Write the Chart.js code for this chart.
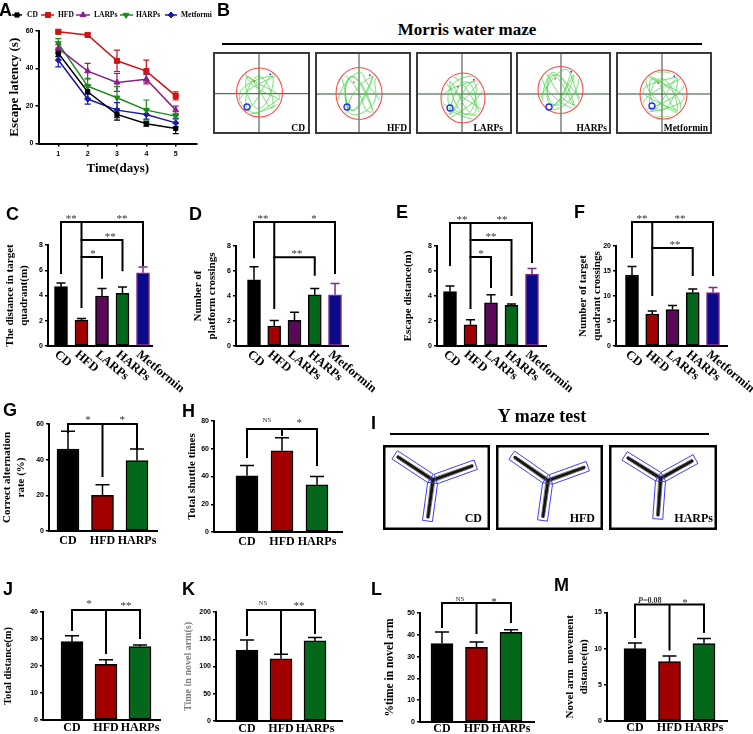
<!DOCTYPE html>
<html>
<head>
<meta charset="utf-8">
<script src="https://cdn.jsdelivr.net/npm/chart.js@4.4.1/dist/chart.umd.min.js"></script>
<style>
html,body{margin:0;padding:0;background:#fff;}
#fig{position:relative;width:753px;height:734px;overflow:hidden;background:#fff;}
canvas{position:absolute;}
.lbl{position:absolute;font-family:"Liberation Sans",Arial,sans-serif;font-weight:bold;font-size:18px;line-height:18px;color:#000;}
.big{position:absolute;font-family:"Liberation Serif","Times New Roman",serif;font-weight:bold;line-height:1;white-space:nowrap;transform:translateX(-50%);color:#000;}
.rule{position:absolute;height:2px;background:#000;}
</style>
</head>
<body>
<div id="fig"></div>
<script>
// ---------------- DATA ----------------
const days = [1, 2, 3, 4, 5];
const groups5 = ['CD', 'HFD', 'LARPs', 'HARPs', 'Metformin'];
const groups3 = ['CD', 'HFD', 'HARPs'];

// A: escape latency (s) per day, mean and error
const latencyCD = [48.1, 27.6, 15.5, 10.5, 8.0];
const latencyCDErr = [1.8, 3.5, 3.0, 1.2, 2.7];
const latencyHFD = [59.6, 57.9, 44.1, 38.6, 25.4];
const latencyHFDErr = [1.0, 1.0, 5.7, 5.9, 2.1];
const latencyLARPs = [50.7, 38.6, 32.6, 34.3, 17.8];
const latencyLARPsErr = [2.0, 4.1, 4.8, 2.5, 2.1];
const latencyHARPs = [53.4, 30.6, 24.4, 17.8, 14.6];
const latencyHARPsErr = [2.5, 4.1, 5.9, 5.4, 1.2];
const latencyMet = [44.5, 23.7, 17.8, 15.5, 11.0];
const latencyMetErr = [3.6, 2.7, 4.0, 2.5, 2.1];

// C-F (five groups)
const targetQuadrantDistance = [4.7, 2.05, 3.96, 4.17, 5.8];
const targetQuadrantDistanceErr = [0.3, 0.12, 0.6, 0.5, 0.45];
const platformCrossings = [5.3, 1.6, 2.05, 4.1, 4.1];
const platformCrossingsErr = [1.05, 0.45, 0.65, 0.5, 0.9];
const escapeDistance = [4.35, 1.7, 3.45, 3.25, 5.75];
const escapeDistanceErr = [0.45, 0.4, 0.65, 0.12, 0.45];
const quadrantCrossings = [14.2, 6.4, 7.3, 10.7, 10.7];
const quadrantCrossingsErr = [1.7, 0.6, 0.8, 0.7, 1.0];

// G, H, J-M (three groups)
const alternationRate = [46, 20, 39.5];
const alternationRateErr = [10, 6, 6.5];
const shuttleTimes = [40.5, 58.5, 34];
const shuttleTimesErr = [7.5, 9.5, 6];
const totalDistance = [29, 20.6, 27.2];
const totalDistanceErr = [2.2, 1.7, 0.6];
const novelArmTime = [130, 114, 147];
const novelArmTimeErr = [18.5, 8.5, 6];
const novelArmPercent = [36, 34.2, 41.1];
const novelArmPercentErr = [5.3, 2.5, 1.2];
const novelArmDistance = [10.0, 8.2, 10.7];
const novelArmDistanceErr = [0.8, 0.8, 0.7];

// y tick values
const ticksA = [0, 20, 40, 60];
const ticksC = [0, 2, 4, 6, 8];
const ticksD = [0, 2, 4, 6, 8];
const ticksE = [0, 2, 4, 6, 8];
const ticksF = [0, 5, 10, 15, 20];
const ticksG = [0, 20, 40, 60];
const ticksH = [0, 20, 40, 60, 80];
const ticksJ = [0, 10, 20, 30, 40];
const ticksK = [0, 50, 100, 150, 200];
const ticksL = [0, 10, 20, 30, 40, 50];
const ticksM = [0, 5, 10, 15];

// ---------------- STYLE ----------------
const SERIF = '"Liberation Serif","Times New Roman",serif';
const SANS = '"Liberation Sans",Arial,sans-serif';
const groupFill = {CD:'#000000', HFD:'#a00000', LARPs:'#5a0858', HARPs:'#05671a', Metformin:'#0b0b8a'};
const groupBorder = {CD:'#000000', HFD:'#000000', LARPs:'#000000', HARPs:'#000000', Metformin:'#7a2c8c'};

Chart.defaults.animation = false;
Chart.defaults.font.family = SANS;
Chart.defaults.color = '#000';

const fig = document.getElementById('fig');
function addCanvas(l, t, w, h) {
  const c = document.createElement('canvas');
  c.width = w; c.height = h;
  c.style.left = l + 'px'; c.style.top = t + 'px';
  c.style.width = w + 'px'; c.style.height = h + 'px';
  fig.appendChild(c);
  return c;
}
function addDiv(cls, txt, x, y, extra) {
  const d = document.createElement('div');
  d.className = cls; d.textContent = txt;
  d.style.left = x + 'px'; d.style.top = y + 'px';
  if (extra) d.style.cssText += extra;
  fig.appendChild(d);
  return d;
}

// ---------------- PLUGINS ----------------
function drawErrors(chart) {
  const ctx = chart.ctx, ys = chart.scales.y;
  chart.data.datasets.forEach((ds, di) => {
    if (!ds.errors) return;
    const meta = chart.getDatasetMeta(di);
    meta.data.forEach((el, i) => {
      const v = ds.data[i].y, e = ds.errors[i];
      const x = el.x;
      const yTop = ys.getPixelForValue(v + e);
      const yBase = ds.bothErrors ? ys.getPixelForValue(v - e) : ys.getPixelForValue(v);
      const col = Array.isArray(ds.errorColor) ? ds.errorColor[i] : ds.errorColor;
      const cw = ds.capWidth / 2;
      ctx.save();
      ctx.strokeStyle = col; ctx.lineWidth = ds.errorWidth;
      ctx.beginPath();
      ctx.moveTo(x, yBase); ctx.lineTo(x, yTop);
      ctx.moveTo(x - cw, yTop); ctx.lineTo(x + cw, yTop);
      if (ds.bothErrors) { ctx.moveTo(x - cw, yBase); ctx.lineTo(x + cw, yBase); }
      ctx.stroke();
      ctx.restore();
    });
  });
}
const errPluginBefore = { id: 'errBefore', beforeDatasetsDraw(chart) { drawErrors(chart); } };
const errPluginAfter = { id: 'errAfter', afterDatasetsDraw(chart) { drawErrors(chart); } };

function drawMark(ctx, m, x, y) {
  ctx.save();
  ctx.fillStyle = '#333';
  ctx.textBaseline = 'alphabetic';
  if (m.pre) {
    ctx.font = 'italic bold 8px ' + SERIF;
    const w1 = ctx.measureText(m.pre).width;
    ctx.font = 'bold 8px ' + SERIF;
    const w2 = ctx.measureText(m.t).width;
    const x0 = x - (w1 + w2) / 2;
    ctx.textAlign = 'left';
    ctx.font = 'italic bold 8px ' + SERIF; ctx.fillText(m.pre, x0, y);
    ctx.font = 'bold 8px ' + SERIF; ctx.fillText(m.t, x0 + w1, y);
  } else {
    ctx.textAlign = 'center';
    ctx.font = (m.t === 'NS' ? '7px ' : '11px ') + SERIF;
    ctx.fillText(m.t, x, y);
  }
  ctx.restore();
}
function bracketPlugin(list) {
  return {
    id: 'brackets',
    afterDatasetsDraw(chart) {
      const ctx = chart.ctx, xs = chart.scales.x, ys = chart.scales.y;
      ctx.save();
      ctx.strokeStyle = '#000'; ctx.lineWidth = 2; ctx.lineCap = 'square';
      list.forEach(b => {
        const y = ys.getPixelForValue(b.y);
        ctx.beginPath();
        ctx.moveTo(xs.getPixelForValue(b.from), y);
        ctx.lineTo(xs.getPixelForValue(b.to), y);
        b.legs.forEach(([i, v]) => {
          const x = xs.getPixelForValue(i);
          ctx.moveTo(x, y); ctx.lineTo(x, ys.getPixelForValue(v));
        });
        ctx.stroke();
        b.marks.forEach(m => drawMark(ctx, m, xs.getPixelForValue(m.at), y + (m.dy || 0)));
      });
      ctx.restore();
    }
  };
}
function rotLabelPlugin(labels) {
  return {
    id: 'rotLabels',
    afterDraw(chart) {
      const ctx = chart.ctx, xs = chart.scales.x, y0 = chart.chartArea.bottom;
      ctx.save();
      ctx.font = 'bold 12.5px ' + SERIF;
      ctx.fillStyle = '#000'; ctx.textAlign = 'left'; ctx.textBaseline = 'middle';
      labels.forEach((t, i) => {
        const x = xs.getPixelForValue(i);
        ctx.save();
        ctx.translate(x - 5, y0 + 7);
        ctx.rotate(40 * Math.PI / 180);
        ctx.fillText(t, 0, 0);
        ctx.restore();
      });
      ctx.restore();
    }
  };
}

// ---------------- BAR PANELS ----------------
function barPanel(g, labels, values, errs, ticks, title, tOpt, brackets, rotated) {
  const c = addCanvas(g.cl, g.ct, g.cw, g.ch);
  const n = labels.length;
  const yw = g.axL - g.cl, xh = g.ct + g.ch - g.yBot;
  const xmin = -(g.c0 - g.axL) / g.s;
  const xmax = (n - 1) + (g.axR - (g.c0 + (n - 1) * g.s)) / g.s;
  const tfont = {family: SERIF, weight: tOpt.weight || 'bold', size: tOpt.size || 11, lineHeight: 1.25};
  const lh = tfont.size * tfont.lineHeight;
  const borders = labels.map(l => groupBorder[l]);
  const plugins = [errPluginAfter, bracketPlugin(brackets)];
  if (rotated) plugins.push(rotLabelPlugin(labels));
  return new Chart(c, {
    type: 'bar',
    data: {
      datasets: [{
        data: values.map((v, i) => ({x: i, y: v})),
        errors: errs, errorColor: borders, errorWidth: 1.5, capWidth: g.cap,
        backgroundColor: labels.map(l => groupFill[l]),
        borderColor: borders,
        borderWidth: 1.5,
        barThickness: g.bw,
        borderSkipped: false
      }]
    },
    options: {
      responsive: false, devicePixelRatio: 1, animation: false,
      layout: {padding: {left: 0, top: g.yTop - g.ct, right: g.cl + g.cw - g.axR, bottom: 0}},
      plugins: {legend: {display: false}, tooltip: {enabled: false}},
      scales: {
        x: {
          type: 'linear', min: xmin, max: xmax, offset: false,
          afterBuildTicks: s => { s.ticks = labels.map((_, i) => ({value: i})); },
          afterFit: s => { s.height = xh; },
          grid: {display: false, offset: false, drawTicks: false, tickLength: 0},
          border: {display: true, color: '#000', width: 2},
          ticks: {
            display: !rotated, autoSkip: false, maxRotation: 0, minRotation: 0,
            padding: g.xpad || 0, color: '#000',
            font: {family: SERIF, weight: 'bold', size: 12},
            callback: v => labels[v]
          }
        },
        y: {
          min: 0, max: ticks[ticks.length - 1],
          afterBuildTicks: s => { s.ticks = ticks.map(v => ({value: v})); },
          afterFit: s => { s.width = yw; },
          grid: {display: true, drawOnChartArea: false, drawTicks: true, tickLength: 3, color: '#000', lineWidth: 1.5},
          border: {display: true, color: '#000', width: 2},
          ticks: {padding: 2, color: '#000', font: {family: SANS, weight: 'bold', size: 7}},
          title: {
            display: true, text: title, color: tOpt.color || '#000', font: tfont,
            padding: {top: g.titleX - g.cl - lh / 2, bottom: 0}
          }
        }
      }
    },
    plugins: plugins
  });
}

// C
barPanel({cl:0, ct:200, cw:188, ch:205, axL:48, axR:152, yTop:245, yBot:346, c0:61, s:20.5, bw:13, cap:9, titleX:10},
  groups5, targetQuadrantDistance, targetQuadrantDistanceErr, ticksC,
  ['The distance in target', 'quadrant(m)'], {},
  [{y:9.82, from:0, to:4, legs:[[0,5.78],[1,3.09],[4,6.42]], marks:[{t:'**', at:0.5},{t:'**', at:2.98}]},
   {y:8.4, from:1, to:3, legs:[[3,6.0]], marks:[{t:'**', at:2.4}]},
   {y:7.05, from:1, to:2, legs:[[2,5.4]], marks:[{t:'*', at:1.56}]}], true);

// D
barPanel({cl:190, ct:200, cw:192, ch:205, axL:236, axR:348, yTop:246, yBot:346, c0:254, s:20.25, bw:13, cap:9, titleX:198},
  groups5, platformCrossings, platformCrossingsErr, ticksD,
  ['Number of', 'platform crossings'], {},
  [{y:9.92, from:0, to:4, legs:[[0,7.1],[1,3.05],[4,5.85]], marks:[{t:'**', at:0.45},{t:'*', at:2.96}]},
   {y:7.1, from:1, to:3, legs:[[3,5.7]], marks:[{t:'**', at:2.12}]}], true);

// E
barPanel({cl:395, ct:200, cw:182, ch:205, axL:437, axR:546, yTop:246, yBot:346, c0:450, s:20.5, bw:13, cap:9, titleX:408},
  groups5, escapeDistance, escapeDistanceErr, ticksE,
  'Escape distance(m)', {},
  [{y:9.84, from:0, to:4, legs:[[0,6.48],[1,3.04],[4,6.72]], marks:[{t:'**', at:0.59},{t:'**', at:2.54}]},
   {y:8.48, from:1, to:3, legs:[[3,4.08]], marks:[{t:'**', at:2.0}]},
   {y:7.12, from:1, to:2, legs:[[2,4.72]], marks:[{t:'*', at:1.51}]}], true);

// F
barPanel({cl:575, ct:200, cw:178, ch:205, axL:616, axR:727, yTop:246, yBot:346, c0:632, s:20.25, bw:13, cap:9, titleX:583},
  groups5, quadrantCrossings, quadrantCrossingsErr, ticksF,
  ['Number of target', 'quadrant crossings'], {},
  [{y:24.8, from:0, to:4, legs:[[0,17.8],[1,10.2],[4,14.2]], marks:[{t:'**', at:0.49},{t:'**', at:2.37}]},
   {y:19.6, from:1, to:3, legs:[[3,14.2]], marks:[{t:'**', at:2.12}]}], true);

// G
barPanel({cl:0, ct:400, cw:180, ch:152, axL:49, axR:157, yTop:424, yBot:531, c0:68, s:34.5, bw:22, cap:14, titleX:7, xpad:3},
  groups3, alternationRate, alternationRateErr, ticksG,
  ['Correct alternation', 'rate (%)'], {},
  [{y:60, from:0, to:2, legs:[[0,55.5],[1,30.8],[2,46.6]], marks:[{t:'*', at:0.58, dy:-1},{t:'*', at:1.57, dy:-1}]}], false);

// H
barPanel({cl:183, ct:400, cw:190, ch:152, axL:214, axR:342, yTop:421, yBot:532, c0:247, s:35, bw:22, cap:14, titleX:192, xpad:3},
  groups3, shuttleTimes, shuttleTimesErr, ticksH,
  'Total shuttle times', {},
  [{y:74.2, from:0, to:2, legs:[[0,54.1],[1,69.9],[2,48.3]], marks:[{t:'NS', at:0.57, dy:-7},{t:'*', at:1.49, dy:-3}]}], false);

// J
barPanel({cl:0, ct:590, cw:180, ch:144, axL:43, axR:160, yTop:612, yBot:720, c0:72, s:34, bw:22, cap:14, titleX:8, xpad:1},
  groups3, totalDistance, totalDistanceErr, ticksJ,
  'Total distance(m)', {size:10.5},
  [{y:40.7, from:0, to:2, legs:[[0,33.3],[1,24.8],[2,30.4]], marks:[{t:'*', at:0.5, dy:-3},{t:'**', at:1.59, dy:-1}]}], false);

// K
barPanel({cl:180, ct:590, cw:190, ch:144, axL:216, axR:342, yTop:612, yBot:721, c0:247, s:34, bw:22, cap:14, titleX:188, xpad:1},
  groups3, novelArmTime, novelArmTimeErr, ticksK,
  'Time in novel arm(s)', {size:10, color:'#808080'},
  [{y:203.7, from:0, to:2, legs:[[0,157.8],[1,124.7],[2,161.3]], marks:[{t:'NS', at:0.47, dy:-5},{t:'**', at:1.53, dy:-1}]}], false);

// L
barPanel({cl:380, ct:590, cw:180, ch:144, axL:420, axR:534, yTop:613, yBot:722, c0:442, s:34.5, bw:22, cap:14, titleX:390, xpad:0},
  groups3, novelArmPercent, novelArmPercentErr, ticksL,
  '%time in novel arm', {size:11.5},
  [{y:54.6, from:0, to:2, legs:[[0,43.6],[1,40.8],[2,45.9]], marks:[{t:'NS', at:0.52, dy:-2},{t:'*', at:1.51, dy:2}]}], false);

// M
barPanel({cl:562, ct:590, cw:191, ch:144, axL:607, axR:727, yTop:612.5, yBot:721, c0:635, s:34.5, bw:22, cap:14, titleX:570, xpad:0},
  groups3, novelArmDistance, novelArmDistanceErr, ticksM,
  ['Novel arm  movement', 'distance(m)'], {},
  [{y:16.1, from:0, to:2, legs:[[0,11.6],[1,9.9],[2,12.3]], marks:[{pre:'P', t:'=0.08', at:0.43, dy:-2},{t:'*', at:1.45, dy:1}]}], false);

// ---------------- PANEL A (line chart) ----------------
(function () {
  const g = {cl:0, ct:0, cw:212, ch:176, axL:38.5, axR:197, yTop:31, yBot:143.5, t1:58.3, s:29.35};
  const series = [
    {label:'CD', data:latencyCD, err:latencyCDErr, color:'#000000', style:'rect', r:3, rot:0},
    {label:'HFD', data:latencyHFD, err:latencyHFDErr, color:'#cc1414', style:'rect', r:3.6, rot:0},
    {label:'LARPs', data:latencyLARPs, err:latencyLARPsErr, color:'#8a1f8a', style:'triangle', r:3.4, rot:0},
    {label:'HARPs', data:latencyHARPs, err:latencyHARPsErr, color:'#1b8c1b', style:'triangle', r:3.4, rot:180},
    {label:'Metformin', data:latencyMet, err:latencyMetErr, color:'#1a1ab0', style:'rectRot', r:3, rot:0}
  ];
  const legendPos = [{x1:12, x2:22, mx:17, tx:27}, {x1:41, x2:54, mx:48, tx:58}, {x1:76, x2:90, mx:83, tx:94},
                     {x1:120, x2:133, mx:126, tx:136}, {x1:165, x2:177, mx:171, tx:181}];
  const legendPlugin = {
    id: 'lineLegend',
    afterDraw(chart) {
      const ctx = chart.ctx, y = 15;
      ctx.save();
      chart.data.datasets.forEach((ds, i) => {
        const p = legendPos[i];
        ctx.strokeStyle = ds.borderColor; ctx.fillStyle = ds.borderColor; ctx.lineWidth = 1.5;
        ctx.beginPath(); ctx.moveTo(p.x1, y); ctx.lineTo(p.x2, y); ctx.stroke();
        if (Chart.helpers && Chart.helpers.drawPoint) {
          ctx.lineWidth = 1;
          Chart.helpers.drawPoint(ctx, {pointStyle: ds.pointStyle, rotation: ds.pointRotation, radius: ds.pointRadius, borderWidth: 1}, p.mx, y);
        } else {
          ctx.fillRect(p.mx - 2.5, y - 2.5, 5, 5);
        }
        ctx.fillStyle = '#000';
        ctx.font = 'bold 7.5px ' + SERIF; ctx.textAlign = 'left'; ctx.textBaseline = 'middle';
        ctx.fillText(ds.label, p.tx, y + 0.5);
      });
      ctx.restore();
    }
  };
  const c = addCanvas(g.cl, g.ct, g.cw, g.ch);
  const xmin = days[0] - (g.t1 - g.axL) / g.s;
  const xmax = days[days.length - 1] + (g.axR - (g.t1 + (days.length - 1) * g.s)) / g.s;
  new Chart(c, {
    type: 'line',
    data: {
      datasets: series.map(s => ({
        label: s.label,
        data: days.map((d, i) => ({x: d, y: s.data[i]})),
        errors: s.err, bothErrors: true, capWidth: 6, errorWidth: 1.2, errorColor: s.color,
        borderColor: s.color, backgroundColor: s.color, borderWidth: 1.5,
        pointStyle: s.style, pointRadius: s.r, pointRotation: s.rot, pointBorderWidth: 1,
        tension: 0, clip: false
      }))
    },
    options: {
      responsive: false, devicePixelRatio: 1, animation: false,
      layout: {padding: {left: 0, top: g.yTop - g.ct, right: g.cl + g.cw - g.axR, bottom: 0}},
      plugins: {legend: {display: false}, tooltip: {enabled: false}},
      scales: {
        x: {
          type: 'linear', min: xmin, max: xmax,
          afterBuildTicks: s => { s.ticks = days.map(d => ({value: d})); },
          afterFit: s => { s.height = g.ct + g.ch - g.yBot; },
          grid: {display: true, drawOnChartArea: false, drawTicks: true, tickLength: 3, color: '#000', lineWidth: 1.5},
          border: {display: true, color: '#000', width: 2},
          ticks: {padding: 3, color: '#000', maxRotation: 0, font: {family: SANS, weight: 'bold', size: 7}},
          title: {display: true, text: 'Time(days)', color: '#000', font: {family: SERIF, weight: 'bold', size: 13}, padding: {top: 0, bottom: 0}}
        },
        y: {
          min: 0, max: ticksA[ticksA.length - 1],
          afterBuildTicks: s => { s.ticks = ticksA.map(v => ({value: v})); },
          afterFit: s => { s.width = g.axL - g.cl; },
          grid: {display: true, drawOnChartArea: false, drawTicks: true, tickLength: 3, color: '#000', lineWidth: 1.5},
          border: {display: true, color: '#000', width: 2},
          ticks: {padding: 2, color: '#000', font: {family: SANS, weight: 'bold', size: 7}},
          title: {display: true, text: 'Escape latency (s)', color: '#000', font: {family: SERIF, weight: 'bold', size: 13, lineHeight: 1.2}, padding: {top: 7, bottom: 0}}
        }
      }
    },
    plugins: [errPluginBefore, legendPlugin]
  });
})();

// ---------------- PANEL B (Morris water maze tracks, illustration) ----------------
(function () {
  const boxes = [
    {x:213, w:97, cx:259.5, cy:92.5, rx:23, ry:24.5, vx:259, hy:93.7, px:247, py:107, label:'CD', lx:305, a:3, b:2, ph:0.6},
    {x:315, w:96, cx:359, cy:93.5, rx:23, ry:26, vx:359, hy:94, px:347, py:107, label:'HFD', lx:407, a:2, b:3, ph:1.1},
    {x:416, w:96, cx:463, cy:98, rx:22, ry:25, vx:462, hy:94, px:450, py:108, label:'LARPs', lx:503, a:4, b:3, ph:0.3},
    {x:516, w:95, cx:560.5, cy:90, rx:22.5, ry:23.5, vx:561, hy:94, px:549, py:107, label:'HARPs', lx:607, a:3, b:4, ph:0.9},
    {x:616, w:96, cx:663.5, cy:94.5, rx:23.5, ry:24.5, vx:662, hy:94, px:652, py:106, label:'Metformin', lx:708, a:5, b:3, ph:1.4}
  ];
  const c = addCanvas(210, 48, 510, 92);
  const ctx = c.getContext('2d');
  ctx.translate(-210, -48);
  boxes.forEach(b => {
    ctx.fillStyle = '#fff'; ctx.fillRect(b.x, 52, b.w, 82);
    ctx.strokeStyle = '#2e4f2e'; ctx.lineWidth = 1;
    ctx.beginPath(); ctx.moveTo(b.vx, 53); ctx.lineTo(b.vx, 133); ctx.moveTo(b.x + 1, b.hy); ctx.lineTo(b.x + b.w - 1, b.hy); ctx.stroke();
    ctx.strokeStyle = '#ff4a4a'; ctx.lineWidth = 1.1;
    ctx.beginPath(); ctx.ellipse(b.cx, b.cy, b.rx, b.ry, 0, 0, 2 * Math.PI); ctx.stroke();
    ctx.save();
    ctx.beginPath(); ctx.ellipse(b.cx, b.cy, b.rx - 1.5, b.ry - 1.5, 0, 0, 2 * Math.PI); ctx.clip();
    ctx.strokeStyle = '#45d845'; ctx.lineWidth = 0.8;
    ctx.beginPath();
    for (let k = 0; k <= 400; k++) {
      const t = k / 400 * 2 * Math.PI;
      const x = b.cx + b.rx * 0.82 * Math.sin(b.a * t + b.ph) + 3 * Math.sin(7 * t);
      const y = b.cy + b.ry * 0.8 * Math.sin(b.b * t) + 3 * Math.cos(5 * t + b.ph);
      if (k === 0) ctx.moveTo(x, y); else ctx.lineTo(x, y);
    }
    ctx.stroke();
    ctx.beginPath();
    for (let k = 0; k <= 300; k++) {
      const t = k / 300 * 2 * Math.PI;
      const x = b.cx + b.rx * 0.6 * Math.cos(2 * t + b.ph);
      const y = b.cy + b.ry * 0.65 * Math.sin(3 * t);
      if (k === 0) ctx.moveTo(x, y); else ctx.lineTo(x, y);
    }
    ctx.stroke();
    ctx.restore();
    ctx.strokeStyle = '#2b2bff'; ctx.lineWidth = 1.3;
    ctx.beginPath(); ctx.arc(b.px, b.py, 3, 0, 2 * Math.PI); ctx.stroke();
    ctx.fillStyle = '#ff3030'; ctx.fillRect(b.cx - 6, b.cy - 12, 1.5, 1.5);
    ctx.fillStyle = '#2020ff'; ctx.fillRect(b.cx + 10, b.cy - 19, 1.5, 1.5);
    ctx.strokeStyle = '#3a3a3a'; ctx.lineWidth = 2;
    ctx.strokeRect(b.x + 1, 53, b.w - 2, 80);
    ctx.fillStyle = '#000'; ctx.font = 'bold 9.5px ' + SERIF; ctx.textAlign = 'right'; ctx.textBaseline = 'alphabetic';
    ctx.fillText(b.label, b.lx, 131);
  });
})();

// ---------------- PANEL I (Y maze tracks, illustration) ----------------
(function () {
  const boxes = [
    {x:383, w:107, label:'CD', lx:482, c:[433, 480], ends:[[398, 457], [472, 466], [428, 517]]},
    {x:496, w:107, label:'HFD', lx:595, c:[548, 480.5], ends:[[515, 457.5], [584, 467.5], [543, 516.5]]},
    {x:609, w:108, label:'HARPs', lx:713, c:[660.7, 478.3], ends:[[628, 458], [692, 461], [658, 515]]}
  ];
  const c = addCanvas(380, 440, 345, 95);
  const ctx = c.getContext('2d');
  ctx.translate(-380, -440);
  boxes.forEach(b => {
    const [cx, cy] = b.c;
    b.ends.forEach(([ex, ey]) => {
      const L = Math.hypot(ex - cx, ey - cy), dx = (ex - cx) / L, dy = (ey - cy) / L;
      const nx = -dy, ny = dx, hw = 5;
      const sx = cx + dx * 3, sy = cy + dy * 3, tx = ex + dx * 4, ty = ey + dy * 4;
      ctx.strokeStyle = '#151515'; ctx.lineWidth = 3.2; ctx.lineCap = 'round';
      ctx.beginPath(); ctx.moveTo(cx, cy); ctx.lineTo(ex, ey); ctx.stroke();
      ctx.strokeStyle = '#666'; ctx.lineWidth = 0.8;
      ctx.beginPath();
      ctx.moveTo(cx + nx * 2, cy + ny * 2); ctx.lineTo(ex + nx * 1.5, ey + ny * 1.5);
      ctx.moveTo(cx - nx * 2, cy - ny * 2); ctx.lineTo(ex - nx * 1.5, ey - ny * 1.5);
      ctx.stroke();
      ctx.strokeStyle = '#3d3dff'; ctx.lineWidth = 1; ctx.lineCap = 'butt';
      ctx.beginPath();
      ctx.moveTo(sx + nx * hw, sy + ny * hw); ctx.lineTo(tx + nx * hw, ty + ny * hw);
      ctx.lineTo(tx - nx * hw, ty - ny * hw); ctx.lineTo(sx - nx * hw, sy - ny * hw); ctx.closePath();
      ctx.stroke();
    });
    ctx.strokeStyle = '#000'; ctx.lineWidth = 2.5;
    ctx.strokeRect(b.x + 1.25, 446.25, b.w - 2.5, 82.5);
    ctx.fillStyle = '#000'; ctx.font = 'bold 12px ' + SERIF; ctx.textAlign = 'right'; ctx.textBaseline = 'alphabetic';
    ctx.fillText(b.label, b.lx, 522);
  });
})();

// ---------------- TEXT: panel letters, section titles ----------------
[['A', -1, 1], ['B', 217, 1], ['C', 6, 205], ['D', 189, 205], ['E', 396, 203], ['F', 574, 203],
 ['G', 3, 401], ['H', 182, 402], ['I', 371, 414], ['J', 3, 580], ['K', 182, 580], ['L', 371, 580], ['M', 554, 576]]
  .forEach(([t, x, y]) => addDiv('lbl', t, x, y));
addDiv('big', 'Morris water maze', 467, 21, 'font-size:17px;');
addDiv('rule', '', 222, 43, 'width:480px;');
addDiv('big', 'Y maze test', 542, 407, 'font-size:18px;');
addDiv('rule', '', 390, 433, 'width:319px;');
</script>
</body>
</html>
